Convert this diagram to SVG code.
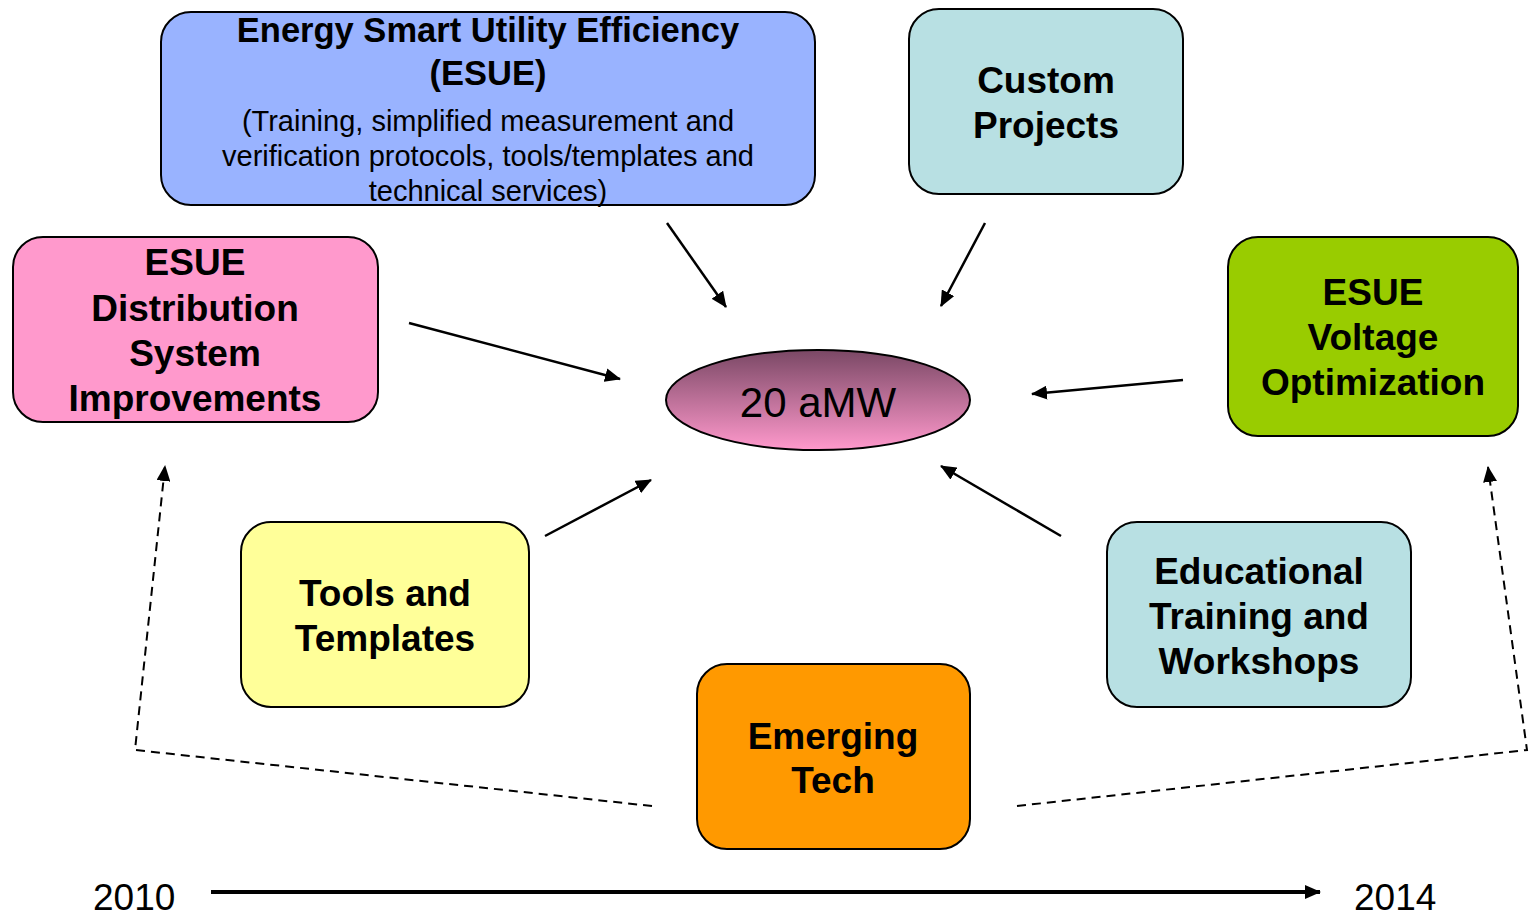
<svg xmlns="http://www.w3.org/2000/svg" width="1530" height="917" viewBox="0 0 1530 917">
<style>
.box{stroke:#000;stroke-width:2}
.lbl{font-family:"Liberation Sans",Arial,sans-serif;font-weight:bold;font-size:37px;text-anchor:middle;fill:#000}
.sub{font-family:"Liberation Sans",Arial,sans-serif;font-size:29px;text-anchor:middle;fill:#000}
.yr{font-family:"Liberation Sans",Arial,sans-serif;font-size:37px;fill:#000}
.conn{stroke:#000;stroke-width:2.5;fill:none}
.dash{stroke:#000;stroke-width:2;fill:none;stroke-dasharray:9 6}
</style>
<defs>
<marker id="ah" markerUnits="userSpaceOnUse" markerWidth="16" markerHeight="14" refX="15" refY="7" orient="auto">
<path d="M0,0 L16,7 L0,14 Z" fill="#000"/>
</marker>
<linearGradient id="eg" x1="0" y1="0" x2="0" y2="1">
<stop offset="0" stop-color="#7a4865"/>
<stop offset="1" stop-color="#ff99cc"/>
</linearGradient>
</defs>
<rect width="1530" height="917" fill="#fff"/>
<g id="connectors">
<line class="conn" x1="667" y1="223" x2="726" y2="307" marker-end="url(#ah)"/>
<line class="conn" x1="985" y1="223" x2="941" y2="306" marker-end="url(#ah)"/>
<line class="conn" x1="409" y1="323" x2="620" y2="379" marker-end="url(#ah)"/>
<line class="conn" x1="1183" y1="380" x2="1032" y2="394" marker-end="url(#ah)"/>
<line class="conn" x1="545" y1="536" x2="651" y2="480" marker-end="url(#ah)"/>
<line class="conn" x1="1061" y1="536" x2="941" y2="466" marker-end="url(#ah)"/>
<polyline class="dash" points="652,806 135,750 165,466" marker-end="url(#ah)"/>
<polyline class="dash" points="1017,806 1527,750 1488,467" marker-end="url(#ah)"/>
<line x1="211" y1="892" x2="1320" y2="892" stroke="#000" stroke-width="4" marker-end="url(#ah)"/>
</g>
<g id="esue">
<rect class="box" x="161" y="12" width="654" height="193" rx="30" fill="#99b3ff"/>
<text class="lbl" x="488" y="42" style="font-size:34.5px">Energy Smart Utility Efficiency</text>
<text class="lbl" x="488" y="85" style="font-size:34.5px">(ESUE)</text>
<text class="sub" x="488" y="131">(Training, simplified measurement and</text>
<text class="sub" x="488" y="166">verification protocols, tools/templates and</text>
<text class="sub" x="488" y="201">technical services)</text>
</g>
<g id="custom">
<rect class="box" x="909" y="9" width="274" height="185" rx="30" fill="#b8e0e3"/>
<text class="lbl" x="1046" y="93">Custom</text>
<text class="lbl" x="1046" y="138">Projects</text>
</g>
<g id="distribution">
<rect class="box" x="13" y="237" width="365" height="185" rx="30" fill="#ff99cc"/>
<text class="lbl" x="195" y="275">ESUE</text>
<text class="lbl" x="195" y="321">Distribution</text>
<text class="lbl" x="195" y="366">System</text>
<text class="lbl" x="195" y="411">Improvements</text>
</g>
<g id="voltage">
<rect class="box" x="1228" y="237" width="290" height="199" rx="30" fill="#99cc00"/>
<text class="lbl" x="1373" y="305">ESUE</text>
<text class="lbl" x="1373" y="350">Voltage</text>
<text class="lbl" x="1373" y="395">Optimization</text>
</g>
<g id="center">
<ellipse cx="818" cy="400" rx="152" ry="50" fill="url(#eg)" stroke="#000" stroke-width="2"/>
<text x="818" y="417" style="font-family:'Liberation Sans',Arial,sans-serif;font-size:42px;text-anchor:middle">20 aMW</text>
</g>
<g id="tools">
<rect class="box" x="241" y="522" width="288" height="185" rx="30" fill="#ffff99"/>
<text class="lbl" x="385" y="606">Tools and</text>
<text class="lbl" x="385" y="651">Templates</text>
</g>
<g id="educational">
<rect class="box" x="1107" y="522" width="304" height="185" rx="30" fill="#b8e0e3"/>
<text class="lbl" x="1259" y="584">Educational</text>
<text class="lbl" x="1259" y="629">Training and</text>
<text class="lbl" x="1259" y="674">Workshops</text>
</g>
<g id="emerging">
<rect class="box" x="697" y="664" width="273" height="185" rx="30" fill="#ff9900"/>
<text class="lbl" x="833" y="749">Emerging</text>
<text class="lbl" x="833" y="793">Tech</text>
</g>
<g id="timeline">
<text class="yr" x="93" y="910">2010</text>
<text class="yr" x="1354" y="910">2014</text>
</g>
</svg>
